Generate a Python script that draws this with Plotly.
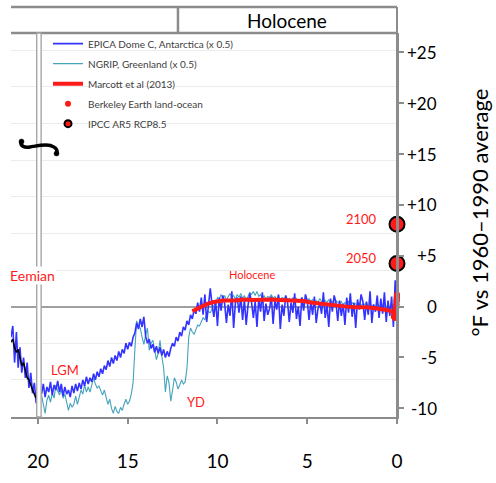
import plotly.graph_objects as go

# ---------------- data (°F anomaly, ages in kyr before present) ----------------
X_TICKS_KYR = [20, 15, 10, 5, 0]
X_TICK_TEXT = ["20", "15", "10", "5", "0"]
Y_TICKS_F = [-10, -5, 0, 5, 10, 15, 20, 25]
Y_TICK_TEXT = ["-10", "-5", "0", "+5", "+10", "+15", "+20", "+25"]
F_RANGE = [-10.85, 26.9]
X_RANGE = [21.5, 0]
BREAK_KYR = 20
HOLOCENE_START_KYR = 12.2

# EPICA Dome C (x0.5), sampled every 0.1 kyr from 19.8 kyr to present
EPICA_START_KYR = 19.8
EPICA_STEP_KYR = 0.1
EPICA_F = [
    -8.6, -7.6, -8.9, -7.9, -8.4, -7.4, -8.7, -7.7, -8.2, -7.3,
    -8.4, -7.6, -8.8, -7.9, -8.6, -8.2, -8.9, -7.8, -8.5, -7.6,
    -8.3, -7.5, -8.1, -7.2, -7.8, -6.9, -7.6, -7.0, -7.4, -6.6,
    -7.2, -6.4, -6.9, -6.1, -6.6, -5.8, -6.2, -5.3, -5.9, -5.0,
    -5.6, -4.8, -5.3, -4.4, -5.0, -4.2, -4.6, -3.6, -4.2, -3.5,
    -3.9, -3.0, -2.6, -1.6, -2.2, -1.2, -2.0, -1.0, -2.9, -3.6,
    -3.2, -4.1, -3.7, -4.5, -3.9, -4.6, -4.0, -4.8, -4.2, -5.0,
    -4.4, -4.9, -4.1, -3.6, -3.9, -3.0, -3.4, -2.5, -2.9, -2.0,
    -2.3, -1.4, -1.8, -0.8, -1.2, -0.3, -0.7, 0.4, -0.5, 0.9,
    -0.8, 1.2, -1.5, 0.3, 1.8, 0.2, -1.0, 0.6, -1.9, 0.9,
    -0.4, 1.1, 0.3, -1.6, 0.2, -0.9, 1.5, -2.1, 0.4, 0.9,
    -0.6, 1.0, -1.3, 0.7, -1.8, 0.1, 1.3, 0.4, -1.1, 0.5,
    -2.0, 0.8, -0.5, 1.4, -1.4, 0.3, -0.8, -0.2, 1.0, -1.7,
    0.6, -0.3, 1.2, -2.2, 0.2, -0.9, 1.1, 0.5, -1.5, 0.4,
    -0.6, 1.3, -1.2, 0.0, -1.9, 0.9, -0.4, 1.2, 0.6, -1.3,
    0.5, -0.8, 1.0, -1.6, -0.2, 0.3, -0.7, 1.4, -1.1, 0.2,
    -2.0, 0.8, -0.5, 1.1, 0.4, -1.4, 0.6, -0.9, 0.3, -1.8,
    0.9, -0.6, 1.3, -1.0, 0.4, -2.1, 0.7, -0.3, 1.2, 0.5,
    -1.3, 0.5, -0.8, 1.5, -1.6, 0.2, -0.5, 1.1, -1.1, 0.8,
    -0.7, 1.4, -1.5, 0.6, -0.9, 1.0, -2.0, 2.6, -0.8,
]

# NGRIP Greenland (x0.5), same sampling
NGRIP_F = [
    -8.7, -9.6, -10.5, -9.2, -8.7, -9.4, -8.5, -9.0, -7.7, -8.3,
    -8.7, -8.1, -9.0, -8.6, -9.4, -10.2, -9.5, -9.9, -9.6, -8.8,
    -9.6, -8.9, -8.2, -8.6, -7.7, -8.4, -7.9, -8.4, -7.6, -7.0,
    -7.6, -8.0, -7.8, -8.3, -8.7, -8.2, -9.0, -9.6, -9.1, -10.0,
    -10.5, -9.8, -10.3, -10.5, -9.9, -10.2, -9.6, -9.1, -9.6, -9.3,
    -8.6, -7.5, -4.2, -1.4, -1.9, -2.1, -3.0, -3.7, -2.8, -2.1,
    -4.3, -3.6, -3.3, -4.1, -5.2, -4.6, -3.3, -4.9, -6.0, -8.4,
    -6.8, -7.5, -9.3, -8.2, -7.0, -7.4, -8.1, -7.7, -7.2, -7.6,
    -7.4, -6.1, -3.0, -2.1, -2.5, -2.7, -2.2, -1.8, -1.9, -1.4,
    -1.1, -1.3, -0.7, -0.5, -0.6, -0.2, 0.1, 0.4, 0.9, 0.7,
    1.2, 0.8, 1.1, 0.6, 1.0, 1.3, 0.9, 1.1, 0.7, 1.2,
    0.9, 1.3, 0.8, 1.1, 0.6, 1.0, 1.4, 1.2, 1.5, 1.1,
    1.5, 1.0, 1.2, 0.8, 1.1, 0.7, 1.0, 0.9, 1.2, 0.8,
    1.0, 0.7, 1.1, 0.6, 0.9, 0.8, 1.0, 0.6, 0.8, 0.5,
    0.9, 0.6, 0.8, 0.4, 0.7, 0.9, 0.5, 0.7, 0.4, 0.8,
    0.5, 0.7, 0.3, 0.6, 0.4, 0.8, 0.5, 0.3, 0.6, 0.4,
    0.7, 0.3, 0.5, 0.2, 0.6, 0.4, 0.3, 0.5, 0.1, 0.4,
    0.3, 0.5, 0.1, 0.4, 0.2, 0.3, 0.0, 0.4, 0.1, 0.3,
    0.2, 0.4, -0.1, 0.3, 0.0, 0.2, -0.2, 0.3, 0.0, 0.1,
    -0.1, 0.2, -0.3, 0.1, -0.2, 0.0, -0.4, 0.1, -0.1,
]

# segment drawn left of the axis break
PRE_BREAK_AGE_KYR = [21.5, 21.4, 21.3, 21.2, 21.1, 21.0, 20.9, 20.8, 20.7, 20.6, 20.5, 20.4, 20.3, 20.2, 20.1]
PRE_BREAK_EPICA_F = [-3.0, -1.9, -5.5, -2.5, -6.0, -4.0, -6.5, -5.0, -7.0, -5.5, -8.0, -6.5, -8.5, -7.5, -9.5]
PRE_BREAK_BLACK_F = [-3.5, -3.2, -4.0, -4.5, -4.2, -5.0, -5.8, -5.5, -6.2, -7.0, -7.2, -7.8, -8.2, -8.6, -9.0]

# Marcott et al (2013)
MARCOTT_AGE_KYR = [11.4, 11.0, 10.6, 10.2, 9.7, 9.0, 8.5, 8.0, 7.5, 7.0, 6.5, 6.0, 5.5, 5.2,
                   4.8, 4.3, 3.8, 3.3, 2.8, 2.3, 1.7, 1.2, 0.8, 0.5, 0.2, 0.1]
MARCOTT_F = [-0.45, -0.1, 0.25, 0.45, 0.6, 0.6, 0.7, 0.65, 0.7, 0.7, 0.65, 0.6, 0.6, 0.55,
             0.4, 0.3, 0.15, 0.05, 0.0, -0.05, -0.05, -0.15, -0.25, -0.35, -0.55, -0.7]

# Berkeley Earth land-ocean
PRESENT_YEAR = 2015
BERKELEY_YEAR = [1850, 1855, 1860, 1865, 1870, 1875, 1880, 1885, 1890, 1895, 1900, 1905,
                 1910, 1915, 1920, 1925, 1930, 1935, 1940, 1945, 1950, 1955, 1960, 1965,
                 1970, 1975, 1980, 1985, 1990, 1995, 2000, 2005, 2010, 2015]
BERKELEY_F = [-1.0, -0.9, -1.0, -0.8, -0.8, -0.9, -0.9, -1.1, -1.0, -0.9, -0.7, -1.0,
              -1.1, -0.8, -0.7, -0.6, -0.5, -0.5, -0.2, -0.2, -0.4, -0.3, -0.1, -0.2,
              -0.1, -0.1, 0.2, 0.2, 0.5, 0.6, 0.7, 0.9, 1.0, 1.2]

# IPCC AR5 RCP8.5 projections
IPCC_YEAR = [2050, 2100]
IPCC_F = [4.25, 8.1]
IPCC_AGE_KYR = [0, 0]

# red period labels: (text, age kyr, °F)
PERIOD_LABELS = [("LGM", 18.52, -6.2), ("YD", 11.2, -9.35), ("Holocene", 8.08, 3.2)]

FONT = "Lato"
GREY = "#8c8c8c"
RED = "#ff1a1a"

epica_age = [round(EPICA_START_KYR - i * EPICA_STEP_KYR, 2) for i in range(len(EPICA_F))]
ngrip_age = [round(EPICA_START_KYR - i * EPICA_STEP_KYR, 2) for i in range(len(NGRIP_F))]
berkeley_age = [(PRESENT_YEAR - y) / 1000 for y in BERKELEY_YEAR]

fig = go.Figure()

fig.add_trace(go.Scatter(x=ngrip_age, y=NGRIP_F, mode="lines",
                         line=dict(color="#45a3bb", width=1.1),
                         name="NGRIP, Greenland (x 0.5)", legendrank=2, legendgroup="b"))
fig.add_trace(go.Scatter(x=PRE_BREAK_AGE_KYR + [None] + epica_age,
                         y=PRE_BREAK_EPICA_F + [None] + EPICA_F, mode="lines",
                         line=dict(color="#3333ff", width=1.6),
                         name="EPICA Dome C, Antarctica (x 0.5)", legendrank=1, legendgroup="a"))
fig.add_trace(go.Scatter(x=PRE_BREAK_AGE_KYR, y=PRE_BREAK_BLACK_F, mode="lines",
                         line=dict(color="black", width=1.5), showlegend=False))
fig.add_trace(go.Scatter(x=MARCOTT_AGE_KYR, y=MARCOTT_F, mode="lines",
                         line=dict(color=RED, width=4),
                         name="Marcott et al (2013)", legendrank=3, legendgroup="c"))
fig.add_trace(go.Scatter(x=berkeley_age, y=BERKELEY_F, mode="markers",
                         marker=dict(color=RED, size=6), cliponaxis=False,
                         name="Berkeley Earth land-ocean", legendrank=4, legendgroup="d"))
fig.add_trace(go.Scatter(x=IPCC_AGE_KYR, y=IPCC_F, mode="markers",
                         marker=dict(color=RED, size=15, line=dict(color="black", width=2)),
                         cliponaxis=False, showlegend=False, legendgroup="e"))
fig.add_trace(go.Scatter(x=[None], y=[None], mode="markers",
                         marker=dict(color=RED, size=7, line=dict(color="black", width=2)),
                         name="IPCC AR5 RCP8.5", legendrank=5, legendgroup="e"))
# invisible trace that carries the °C grid axis
fig.add_trace(go.Scatter(x=[None], y=[None], yaxis="y2", showlegend=False, hoverinfo="skip"))

annotations = []
for v, t in zip(Y_TICKS_F, Y_TICK_TEXT):
    annotations.append(dict(xref="paper", x=1 + 42 / 386, xanchor="right", yref="y", y=v,
                            yanchor="middle", text=t, showarrow=False,
                            font=dict(family=FONT, size=17, color="black")))
annotations.append(dict(xref="paper", x=(480 - 11) / 386, xanchor="center",
                        yref="paper", y=(433 - 220) / 400, yanchor="middle",
                        text="°F vs 1960–1990 average", textangle=-90, showarrow=False,
                        font=dict(family=FONT, size=22, color="black")))
annotations.append(dict(xref="x", x=HOLOCENE_START_KYR / 2, xanchor="center",
                        yref="paper", y=1 + 13.5 / 400, yanchor="middle",
                        text="Holocene", showarrow=False,
                        font=dict(family=FONT, size=19, color="black")))
for yr, v in zip(IPCC_YEAR, IPCC_F):
    annotations.append(dict(xref="x", x=0, yref="y", y=v, xanchor="right", yanchor="middle",
                            xshift=-18, yshift=5, text=str(yr), showarrow=False,
                            font=dict(family=FONT, size=13, color=RED)))
for text, age, val in PERIOD_LABELS:
    annotations.append(dict(xref="x", x=age, yref="y", y=val, xanchor="center", yanchor="middle",
                            text=text, showarrow=False,
                            font=dict(family=FONT, size=11 if text == "Holocene" else 13, color=RED)))
annotations.append(dict(xref="paper", x=-2 / 386, xanchor="left", yref="y", y=3.1, yanchor="middle",
                        text="Eemian", showarrow=False, bgcolor="white", borderpad=0,
                        font=dict(family=FONT, size=14, color=RED)))

hdr_top = 1 + 27 / 400
shapes = [
    dict(type="line", xref="paper", yref="paper", x0=0, x1=1, y0=hdr_top, y1=hdr_top,
         line=dict(color=GREY, width=2.5)),
    dict(type="line", xref="paper", yref="paper", x0=0, x1=1, y0=1, y1=1,
         line=dict(color=GREY, width=2.5)),
    dict(type="line", xref="x", yref="paper", x0=HOLOCENE_START_KYR, x1=HOLOCENE_START_KYR,
         y0=1, y1=hdr_top, line=dict(color=GREY, width=2.5)),
    dict(type="line", xref="paper", yref="paper", x0=1, x1=1, y0=0, y1=hdr_top,
         line=dict(color=GREY, width=2)),
    # axis-break double line
    dict(type="rect", xref="x", xsizemode="pixel", xanchor=BREAK_KYR, x0=-1.2, x1=3.2,
         yref="paper", y0=0, y1=1, fillcolor="white", line=dict(color="#a0a0a0", width=1.3),
         layer="above"),
    # break squiggle
    dict(type="path", xref="paper", xsizemode="pixel", xanchor=0,
         yref="paper", ysizemode="pixel", yanchor=1,
         path="M 10,-108 C 9,-113 13,-115 19,-114 C 25,-113 29,-112 35,-112 C 41,-112 47,-115 46,-120",
         line=dict(color="black", width=3.5), layer="above"),
    dict(type="circle", xref="paper", xsizemode="pixel", xanchor=0,
         yref="paper", ysizemode="pixel", yanchor=1,
         x0=8, x1=13, y0=-106, y1=-111, fillcolor="black", line=dict(color="black", width=0.5),
         layer="above"),
    dict(type="circle", xref="paper", xsizemode="pixel", xanchor=0,
         yref="paper", ysizemode="pixel", yanchor=1,
         x0=43, x1=48, y0=-118, y1=-123, fillcolor="black", line=dict(color="black", width=0.5),
         layer="above"),
]

fig.update_layout(
    width=496, height=483,
    margin=dict(l=11, r=99, t=33, b=50),
    paper_bgcolor="white", plot_bgcolor="white",
    font=dict(family=FONT, color="black"),
    showlegend=True,
    xaxis=dict(range=X_RANGE, tickvals=X_TICKS_KYR, ticktext=X_TICK_TEXT, ticks="outside",
               ticklen=5, tickwidth=2, tickcolor=GREY, showline=True, linecolor=GREY, linewidth=2,
               showgrid=False, zeroline=False, tickfont=dict(family=FONT, size=19, color="black"),
               ticklabelstandoff=21),
    yaxis=dict(range=F_RANGE, side="right", tickvals=Y_TICKS_F, ticks="outside", ticklen=5,
               tickwidth=2, tickcolor=GREY, showticklabels=False, showline=True, linecolor=GREY,
               linewidth=2, showgrid=False, zeroline=True, zerolinecolor="#a0a0a0", zerolinewidth=2),
    yaxis2=dict(range=[F_RANGE[0] / 1.8, F_RANGE[1] / 1.8], overlaying="y", side="left",
                showticklabels=False, ticks="", showline=False, showgrid=True, gridcolor="#ececec",
                gridwidth=1, dtick=2, tick0=0, zeroline=False),
    legend=dict(x=(48 - 11) / 386, y=1.01, xanchor="left", yanchor="top", bgcolor="rgba(0,0,0,0)",
                borderwidth=0, font=dict(family=FONT, size=10, color="#404040"), tracegroupgap=1),
    annotations=annotations,
    shapes=shapes,
)

fig.write_html("out.html", config={"displayModeBar": False},
               post_script="document.body.style.margin='0';")
